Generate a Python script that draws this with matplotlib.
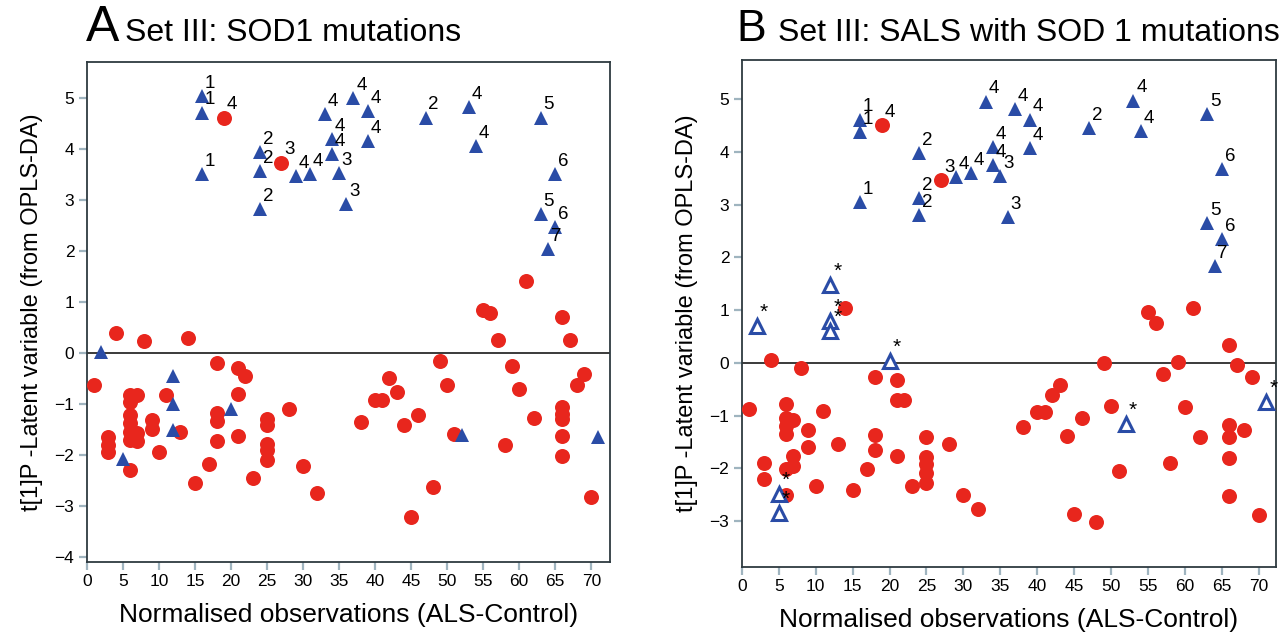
import matplotlib
matplotlib.use("Agg")
import matplotlib.pyplot as plt
import numpy as np

plt.rcParams['font.family'] = ['Liberation Sans', 'DejaVu Sans']

# ---- panel A: SOD1 mutations ----
a_circ_x = [1, 3, 3, 3, 4, 6, 6, 6, 6, 6, 6, 6, 7, 7, 7, 8, 9, 9, 10, 11, 13, 14, 15, 17,
            18, 18, 18, 18, 19, 21, 21, 21, 22, 23, 25, 25, 25, 25, 25, 27, 28, 30, 32, 38,
            40, 41, 42, 43, 44, 45, 46, 48, 49, 50, 51, 55, 56, 57, 58, 59, 60, 61, 62,
            66, 66, 66, 66, 66, 66, 67, 68, 69, 70]
a_circ_y = [-0.64, -1.65, -1.80, -1.95, 0.38, -0.82, -0.97, -1.22, -1.38, -1.55, -1.70, -2.30,
            -0.82, -1.58, -1.72, 0.23, -1.32, -1.49, -1.95, -0.82, -1.55, 0.29, -2.55, -2.17,
            -0.20, -1.18, -1.34, -1.73, 4.61, -0.29, -0.80, -1.63, -0.46, -2.45, -1.30, -1.42,
            -1.78, -1.91, -2.11, 3.73, -1.10, -2.22, -2.75, -1.36, -0.93, -0.93, -0.50, -0.77,
            -1.41, -3.22, -1.21, -2.64, -0.17, -0.63, -1.59, 0.83, 0.78, 0.25, -1.80, -0.25,
            -0.70, 1.40, -1.28, 0.71, -1.06, -1.19, -1.29, -1.63, -2.03, 0.25, -0.63, -0.42,
            -2.83]
a_circ_lab = {19: '4', 27: '3'}

a_tri_x = [2, 5, 12, 12, 12, 16, 16, 16, 20, 24, 24, 24, 29, 31, 33, 34, 34, 35, 36, 37,
           39, 39, 47, 52, 53, 54, 63, 63, 64, 65, 65, 71]
a_tri_y = [0.01, -2.09, -0.46, -1.01, -1.52, 5.04, 4.71, 3.50, -1.10, 3.93, 3.57, 2.82,
           3.47, 3.50, 4.68, 4.19, 3.89, 3.53, 2.92, 5.00, 4.74, 4.15, 4.61, -1.62, 4.81,
           4.06, 4.61, 2.72, 2.03, 3.50, 2.46, -1.65]
a_tri_lab = ['', '', '', '', '', '1', '1', '1', '', '2', '2', '2', '4', '4', '4', '4', '4',
             '3', '3', '4', '4', '4', '2', '', '4', '4', '5', '5', '7', '6', '6', '']

# ---- panel B: SALS with SOD1 mutations ----
b_circ_x = [1, 3, 3, 4, 6, 6, 6, 6, 6, 6, 7, 7, 7, 8, 9, 9, 10, 11, 13, 14, 15, 17, 18, 18,
            18, 19, 21, 21, 21, 22, 23, 25, 25, 25, 25, 25, 27, 28, 30, 32, 38, 40, 41, 42,
            43, 44, 45, 46, 48, 49, 50, 51, 55, 56, 57, 58, 59, 60, 61, 62, 66, 66, 66, 66,
            66, 67, 68, 69, 70]
b_circ_y = [-0.87, -1.90, -2.20, 0.06, -0.79, -1.04, -1.19, -1.34, -2.01, -2.50, -1.08,
            -1.76, -1.96, -0.10, -1.28, -1.60, -2.33, -0.92, -1.54, 1.04, -2.42, -2.02, -0.27,
            -1.37, -1.65, 4.50, -0.32, -0.70, -1.76, -0.70, -2.33, -1.41, -1.78, -1.92, -2.08,
            -2.27, 3.47, -1.54, -2.50, -2.77, -1.21, -0.94, -0.94, -0.61, -0.43, -1.38, -2.87,
            -1.04, -3.01, -0.01, -0.81, -2.06, 0.96, 0.75, -0.21, -1.90, 0.01, -0.84, 1.04,
            -1.41, 0.33, -1.17, -1.40, -1.80, -2.52, -0.04, -1.27, -0.27, -2.88]
b_circ_lab = {19: '4', 27: '3'}

b_tri_x = [16, 16, 16, 24, 24, 24, 29, 31, 33, 34, 34, 35, 36, 37, 39, 39, 47, 53, 54, 63,
           63, 64, 65, 65]
b_tri_y = [4.61, 4.37, 3.05, 3.98, 3.12, 2.80, 3.52, 3.59, 4.95, 4.09, 3.75, 3.54, 2.76,
           4.81, 4.61, 4.07, 4.45, 4.97, 4.40, 4.72, 2.65, 1.83, 3.67, 2.34]
b_tri_lab = ['1', '1', '1', '2', '2', '2', '4', '4', '4', '4', '4', '3', '3', '4', '4', '4',
             '2', '4', '4', '5', '5', '7', '6', '6']

b_open_x = [2, 5, 5, 12, 12, 12, 20, 52, 71]
b_open_y = [0.69, -2.49, -2.85, 1.47, 0.80, 0.60, 0.03, -1.16, -0.75]

x_ticks = np.arange(0, 71, 5)
red = '#e8261d'
blue = '#2a4ca6'


def style(ax, ylim, yticks):
    ax.set_xlim(0, 72.6)
    ax.set_ylim(*ylim)
    ax.set_xticks(x_ticks)
    ax.set_yticks(yticks)
    ax.axhline(0, color='#3a3a3a', lw=1.4, zorder=1)
    for s in ax.spines.values():
        s.set_color('#2e3a40')
        s.set_linewidth(1.3)
    ax.tick_params(direction='out', length=6, width=1.6, color='#9fb4bf',
                   labelsize=12.5, pad=3)
    ax.set_xlabel('Normalised observations (ALS-Control)', fontsize=19, labelpad=10)
    ax.set_ylabel('t[1]P -Latent variable (from OPLS-DA)', fontsize=17, labelpad=8)


def label(ax, x, y, t, size=13.5):
    ax.annotate(t, (x, y), xytext=(2, 3), textcoords='offset points',
                ha='left', va='bottom', fontsize=size, zorder=5)


fig = plt.figure(figsize=(12.88, 6.34), dpi=100)

# panel A
ax1 = fig.add_axes([0.0674, 0.1136, 0.4062, 0.7886])
ax1.plot(a_circ_x, a_circ_y, 'o', color=red, ms=10.8, mew=0, zorder=3)
ax1.plot(a_tri_x, a_tri_y, '^', color=blue, ms=10.5, mew=0, zorder=3)
for x, y, t in zip(a_tri_x, a_tri_y, a_tri_lab):
    if t:
        label(ax1, x, y, t)
for x, y in zip(a_circ_x, a_circ_y):
    if x in a_circ_lab and y > 2:
        label(ax1, x, y, a_circ_lab[x])
style(ax1, (-4.1, 5.7), np.arange(-4, 6))

# panel B
ax2 = fig.add_axes([0.5759, 0.1057, 0.4148, 0.7997])
ax2.plot(b_circ_x, b_circ_y, 'o', color=red, ms=10.8, mew=0, zorder=3)
ax2.plot(b_tri_x, b_tri_y, '^', color=blue, ms=10.5, mew=0, zorder=3)
ax2.plot(b_open_x, b_open_y, '^', mfc='white', mec=blue, ms=10, mew=2.2, zorder=4)
for x, y, t in zip(b_tri_x, b_tri_y, b_tri_lab):
    label(ax2, x, y, t)
for x, y in zip(b_circ_x, b_circ_y):
    if x in b_circ_lab and y > 2:
        label(ax2, x, y, b_circ_lab[x])
for x, y in zip(b_open_x, b_open_y):
    label(ax2, x, y, '*', size=15)
style(ax2, (-3.87, 5.74), np.arange(-3, 6))
ax2.set_xlim(0, 72.3)

# panel titles
fig.text(0.0665, 0.935, 'A', fontsize=36, va='baseline')
fig.text(0.097, 0.935, 'Set III: SOD1 mutations', fontsize=23, va='baseline')
fig.text(0.572, 0.935, 'B', fontsize=32, va='baseline')
fig.text(0.604, 0.935, 'Set III: SALS with SOD 1 mutations', fontsize=23, va='baseline')

fig.savefig('out.png', dpi=100)
